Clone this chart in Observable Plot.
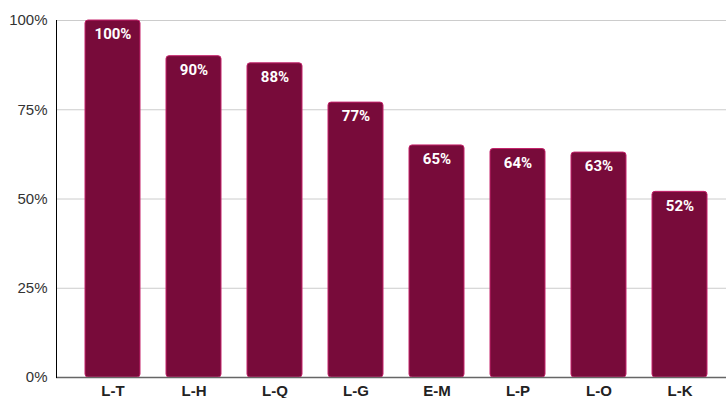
<!DOCTYPE html>
<html>
<head>
<meta charset="utf-8">
<script src="https://cdn.jsdelivr.net/npm/d3@7"></script>
<script src="https://cdn.jsdelivr.net/npm/@observablehq/plot@0.6"></script>
<style>
  html, body { margin: 0; padding: 0; background: #fff; }
  svg { display: block; }
</style>
</head>
<body>
<div id="chart"></div>
<script>
const categories = ["L-T", "L-H", "L-Q", "L-G", "E-M", "L-P", "L-O", "L-K"];
const values = [100, 90, 88, 77, 65, 64, 63, 52];
const yTicks = [0, 25, 50, 75, 100];

const data = categories.map((c, i) => ({cat: c, v: values[i]}));

const chart = Plot.plot({
  width: 726,
  height: 398,
  marginLeft: 56,
  marginRight: -10,
  marginTop: 20,
  marginBottom: 21,
  style: {fontFamily: "'Liberation Sans', Arial, sans-serif", background: "#fff"},
  x: {domain: categories, paddingInner: 0.32, paddingOuter: 0.345, label: null},
  y: {domain: [0, 100], label: null},
  marks: [
    Plot.ruleY(yTicks, {stroke: "#cccccc", strokeWidth: 1}),
    Plot.barY(data, {x: "cat", y: "v", fill: "#780b3a", stroke: "#c4226a", strokeWidth: 1, rx: 3}),
    Plot.text(data, {x: "cat", y: "v", text: d => d.v + "%", dy: 14, fill: "#fff", fontWeight: "bold", fontSize: 15, fontFamily: "Roboto, sans-serif"}),
    Plot.ruleY([0], {stroke: "#666", strokeWidth: 1.5}),
    Plot.frame({anchor: "left", stroke: "#000"}),
    Plot.axisY({ticks: yTicks, tickFormat: d => d + "%", tickSize: 0, tickPadding: 9, fontSize: 15, fill: "#333", label: null}),
    Plot.axisX({tickSize: 0, tickPadding: 8, fontSize: 15, fontWeight: "bold", fill: "#222", label: null})
  ]
});
document.getElementById("chart").appendChild(chart);
</script>
</body>
</html>
